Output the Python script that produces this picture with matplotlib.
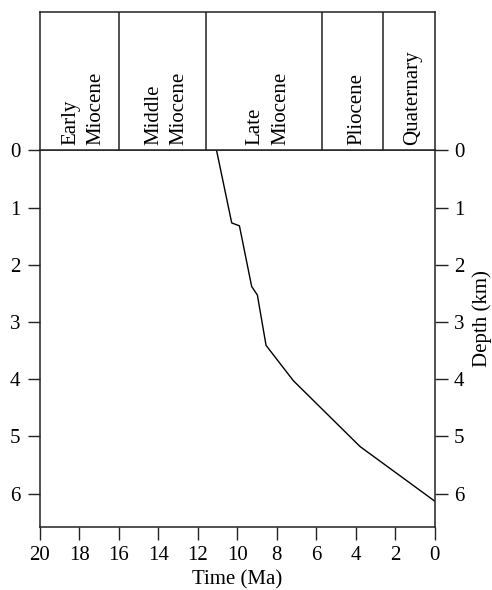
import matplotlib
matplotlib.use("Agg")
import matplotlib.pyplot as plt

plt.rcParams['font.family'] = ['Liberation Serif', 'DejaVu Serif']

# Data
time_ma = [11.05, 10.28, 9.89, 9.27, 8.98, 8.54, 7.15, 3.77, 0.0]
depth_km = [0.0, 1.27, 1.32, 2.38, 2.53, 3.41, 4.03, 5.18, 6.13]

period_names = ["Early\nMiocene", "Middle\nMiocene", "Late\nMiocene", "Pliocene", "Quaternary"]
period_start = [20.0, 16.0, 11.6, 5.7, 2.6]
period_end = [16.0, 11.6, 5.7, 2.6, 0.0]

x_ticks = [20, 18, 16, 14, 12, 10, 8, 6, 4, 2, 0]
y_ticks = [0, 1, 2, 3, 4, 5, 6]

W, H = 492, 590
fig = plt.figure(figsize=(W / 100, H / 100), dpi=100)

left = 40 / W
right = 434.5 / W
ax_bottom = (H - 526.7) / H
ax_top = (H - 150.3) / H
box_top = (H - 11.7) / H

edge = '#222222'
fs = 15

ax = fig.add_axes([left, ax_bottom, right - left, ax_top - ax_bottom])
ax.plot(time_ma, depth_km, color='black', lw=1.0)
ax.set_xlim(20, 0)
ax.set_ylim(6.58, 0)
ax.set_xticks(x_ticks)
ax.set_yticks(y_ticks)
ax.set_xticklabels([str(v) for v in x_ticks])
ax.set_yticklabels([str(v) for v in y_ticks])
ax.tick_params(axis='both', which='both', direction='out', length=9, width=1.0,
               color=edge, labelsize=fs, pad=5)
ax.tick_params(axis='y', left=True, right=True, labelleft=True, labelright=True, pad=5)
for s in ax.spines.values():
    s.set_linewidth(1.1)
    s.set_color(edge)
ax.set_xlabel("Time (Ma)", fontsize=fs, labelpad=4)
ax.yaxis.set_label_position('right')
ax.set_ylabel("Depth (km)", fontsize=fs)
ax.yaxis.set_label_coords(1.096, 1 - 2.95 / 6.58)

# Top period box
bx = fig.add_axes([left, ax_top, right - left, box_top - ax_top])
bx.set_xlim(20, 0)
bx.set_ylim(0, 1)
bx.set_xticks([])
bx.set_yticks([])
for s in bx.spines.values():
    s.set_linewidth(1.1)
    s.set_color(edge)
for name, a, b in zip(period_names, period_start, period_end):
    if b > 0:
        bx.axvline(b, color=edge, lw=1.1)
    bx.text((a + b) / 2 - 0.2, 0.035, name, rotation=90, ha='center', va='bottom',
            fontsize=fs, linespacing=1.45, multialignment='left')

fig.savefig("out.png", dpi=100)
